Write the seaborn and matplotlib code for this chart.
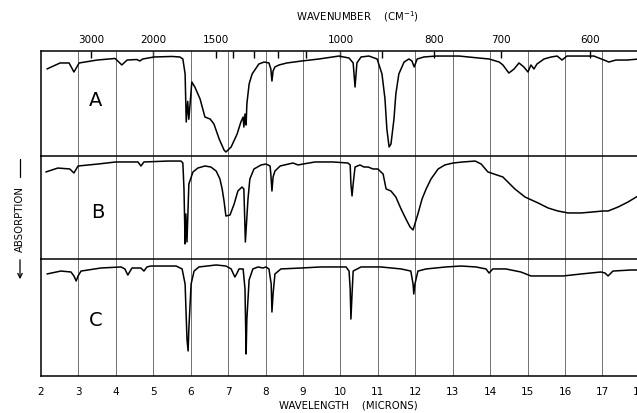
import numpy as np
import pandas as pd
import matplotlib
matplotlib.use("Agg")
import matplotlib.pyplot as plt
import seaborn as sns
from matplotlib.lines import Line2D
from matplotlib.patches import FancyArrowPatch

# ---------------- data (wavelength in microns, transmittance % of panel height) -------------
wl_a = [2.16, 2.51, 2.75, 2.88, 3.02, 3.50, 3.98, 4.16, 4.30, 4.56, 4.64, 4.72, 5.02, 5.50,
        5.71, 5.79, 5.85, 5.88, 5.92, 5.95, 6.03, 6.11, 6.25, 6.38, 6.52, 6.62, 6.76, 6.89,
        6.94, 7.08, 7.24, 7.34, 7.40, 7.42, 7.45, 7.48, 7.50, 7.56, 7.64, 7.82, 7.96, 8.09,
        8.14, 8.17, 8.20, 8.25, 8.36, 8.57, 8.97, 9.43, 9.96, 10.23, 10.34, 10.39, 10.44,
        10.55, 10.76, 10.98, 11.11, 11.19, 11.24, 11.30, 11.35, 11.43, 11.48, 11.56, 11.70,
        11.83, 11.91, 11.97, 12.05, 12.23, 12.55, 13.17, 13.70, 13.97, 14.24, 14.34, 14.50,
        14.64, 14.77, 14.90, 15.01, 15.09, 15.17, 15.25, 15.44, 15.63, 15.79, 15.92, 16.05,
        16.37, 16.77, 17.04, 17.17, 17.36, 17.66, 17.98]
tr_a = [82.9, 88.6, 88.6, 80.0, 88.6, 91.4, 92.9, 86.7, 91.4, 91.9, 90.5, 92.4, 94.3, 94.8,
        94.3, 92.4, 78.1, 32.4, 52.0, 35.0, 70.5, 65.7, 54.3, 37.1, 35.2, 30.5, 16.2, 5.7,
        3.8, 8.6, 21.0, 32.4, 37.1, 27.6, 40.0, 29.5, 49.5, 68.6, 78.1, 87.6, 89.5, 88.6,
        82.9, 71.4, 81.0, 84.8, 86.7, 88.6, 90.5, 92.4, 95.2, 93.3, 88.6, 65.7, 88.6,
        94.3, 95.2, 92.4, 78.1, 54.3, 25.7, 8.6, 11.4, 35.2, 59.0, 78.1, 89.5,
        92.4, 90.5, 84.8, 92.4, 94.3, 95.2, 95.2, 93.3, 92.4, 89.5, 86.7, 79.0,
        82.9, 88.6, 84.8, 80.0, 86.7, 82.9, 87.6, 92.4, 94.3, 95.2, 91.4, 95.2,
        95.2, 95.2, 91.4, 89.5, 91.4, 91.4, 92.4]

wl_b = [2.13, 2.45, 2.77, 2.88, 2.99, 3.52, 4.00, 4.59, 4.67, 4.75, 5.39, 5.74, 5.79, 5.82,
        5.85, 5.87, 5.90, 5.95, 6.06, 6.19, 6.38, 6.54, 6.68, 6.78, 6.84, 6.89, 6.94, 7.05,
        7.16, 7.26, 7.37, 7.42, 7.46, 7.53, 7.58, 7.69, 7.88, 8.01, 8.12, 8.14, 8.17, 8.20,
        8.25, 8.39, 8.73, 8.87, 9.00, 9.32, 9.80, 10.20, 10.26, 10.28, 10.31, 10.34, 10.39,
        10.52, 10.63, 10.74, 10.87, 11.00, 11.14, 11.22, 11.35, 11.48, 11.62, 11.75, 11.86,
        11.94, 12.07, 12.18, 12.29, 12.42, 12.61, 12.79, 13.01, 13.27, 13.60, 13.76, 13.94,
        14.34, 14.66, 14.93, 15.28, 15.55, 15.81, 16.08, 16.43, 16.72, 17.01, 17.15, 17.42,
        17.68, 17.95]
tr_b = [84.5, 88.3, 87.4, 83.5, 90.3, 92.2, 94.2, 94.2, 90.3, 94.2, 95.1, 95.1, 93.2, 68.0,
        14.6, 43.7, 16.5, 72.8, 84.5, 88.3, 90.3, 89.3, 85.4, 77.7, 68.0, 56.3, 41.7, 42.7,
        53.4, 66.0, 69.9, 68.0, 16.5, 58.3, 77.7, 87.4, 91.3, 92.2, 90.3, 82.5, 66.0, 79.6,
        85.4, 90.3, 93.2, 91.3, 92.2, 94.2, 94.2, 93.2, 91.3, 72.8, 61.2, 72.8, 89.3,
        91.3, 89.3, 89.3, 87.4, 87.4, 82.5, 68.0, 66.0, 60.2, 48.5, 38.8, 31.1,
        28.2, 43.7, 58.3, 68.0, 77.7, 87.4, 91.3, 93.2, 94.2, 95.1, 92.2, 84.5,
        79.6, 68.0, 60.2, 54.4, 49.5, 46.6, 44.7, 44.7, 45.6, 46.6, 46.6, 50.5,
        55.3, 61.2]

wl_c = [2.16, 2.53, 2.80, 2.88, 2.94, 2.99, 3.07, 3.60, 4.14, 4.24, 4.32, 4.43, 4.67, 4.75,
        4.83, 4.94, 5.61, 5.77, 5.85, 5.90, 5.93, 5.95, 6.01, 6.09, 6.22, 6.68, 6.94, 7.08,
        7.13, 7.18, 7.24, 7.29, 7.40, 7.45, 7.48, 7.50, 7.56, 7.66, 7.80, 7.93, 8.01, 8.09,
        8.15, 8.17, 8.20, 8.25, 8.41, 8.95, 9.48, 9.75, 10.15, 10.23, 10.26, 10.28, 10.31,
        10.34, 10.55, 11.08, 11.62, 11.88, 11.94, 11.96, 11.99, 12.07, 12.29, 12.82, 13.22,
        13.62, 13.89, 13.97, 14.07, 14.42, 14.82, 15.09, 15.49, 15.95, 16.43, 16.96, 17.07,
        17.15, 17.28, 17.76, 18.03]
tr_c = [87.2, 89.7, 88.9, 85.5, 81.2, 85.5, 89.7, 92.3, 93.2, 91.5, 86.3, 92.3, 92.3, 89.7,
        93.2, 94.0, 94.0, 91.5, 78.6, 31.6, 21.4, 40.2, 78.6, 89.7, 93.2, 94.9, 94.0, 91.5,
        88.0, 84.6, 88.0, 91.5, 91.5, 74.4, 18.8, 48.7, 82.1, 91.5, 93.2, 92.3, 93.2, 91.5,
        78.6, 54.7, 70.1, 87.2, 91.5, 92.3, 93.2, 93.2, 93.2, 89.7, 74.4, 48.7, 70.1,
        89.7, 93.2, 93.2, 91.5, 89.7, 78.6, 70.1, 78.6, 89.7, 91.5, 93.2, 94.0,
        93.2, 91.5, 88.0, 91.5, 91.5, 88.9, 85.5, 85.5, 85.5, 87.2, 88.9, 88.0,
        85.5, 89.7, 90.6, 90.6]

panel_labels = ["A", "B", "C"]
wl_ticks = list(range(2, 19))
wn_major = [3000, 2000, 1500, 1000, 800, 700, 600]
wn_minor = [1400, 1300, 1200, 1100, 900]

# ---------------- figure ----------------
sns.set_theme(style="white")
plt.rcParams["font.family"] = ["DejaVu Sans"]

W, H = 637, 414
fig = plt.figure(figsize=(W / 100, H / 100), dpi=100)
fig.patch.set_facecolor("white")

left = 41 / W
width = 16 * 37.43 / W
panels_px = [(52, 157), (157, 260), (260, 377)]
series = [(wl_a, tr_a), (wl_b, tr_b), (wl_c, tr_c)]
label_pos = [(3.47, 54), (3.52, 46), (3.47, 48)]

axes = []
for i, ((top, bot), (wl, tr)) in enumerate(zip(panels_px, series)):
    ax = fig.add_axes([left, 1 - bot / H, width, (bot - top) / H])
    ax.set_facecolor("white")
    for g in range(3, 18):
        ax.axvline(g, color="0.35", lw=0.6, zorder=1)
    df = pd.DataFrame({"wl": wl, "tr": tr})
    sns.lineplot(data=df, x="wl", y="tr", ax=ax, color="black", lw=1.1,
                 estimator=None, sort=False, zorder=3)
    ax.set_xlim(2, 18)
    ax.set_ylim(0, 100)
    ax.set_yticks([])
    ax.set_xlabel("")
    ax.set_ylabel("")
    for s in ["left", "top", "right", "bottom"]:
        ax.spines[s].set_color("black")
        ax.spines[s].set_linewidth(1.1)
    ax.spines["right"].set_visible(False)
    if i < 2:
        ax.spines["bottom"].set_visible(False)
    ax.text(label_pos[i][0], label_pos[i][1], panel_labels[i], fontsize=14,
            ha="center", va="center", color="black")
    axes.append(ax)

# bottom wavelength axis
axc = axes[2]
axc.set_xticks(wl_ticks)
axc.set_xticklabels([str(t) for t in wl_ticks], fontsize=7.5)
axc.tick_params(axis="x", length=0, pad=7, colors="black")

# top wavenumber axis on panel A
axa = axes[0]
axa.xaxis.tick_top()
axa.set_xticks([1e4 / w for w in wn_major])
axa.set_xticklabels([str(w) for w in wn_major], fontsize=7.5)
axa.set_xticks([1e4 / w for w in wn_minor], minor=True)
axa.tick_params(axis="x", which="both", direction="in", length=5, width=1.0,
                pad=5, colors="black", top=True, bottom=False)
axes[1].set_xticks([])

# titles
fig.text(357 / W, 1 - 17 / H, "WAVENUMBER    (CM$^{-1}$)", fontsize=7.3,
         ha="center", va="center", color="black")
fig.text(348 / W, 1 - 406 / H, "WAVELENGTH    (MICRONS)", fontsize=7.3,
         ha="center", va="center", color="black")

# y label with arrow
fig.text(20 / W, 1 - 219 / H, "ABSORPTION", fontsize=7.3, rotation=90,
         ha="center", va="center", color="black")
fig.add_artist(Line2D([20 / W, 20 / W], [1 - 160 / H, 1 - 178 / H], color="black", lw=0.9))
fig.add_artist(FancyArrowPatch((20 / W, 1 - 258 / H), (20 / W, 1 - 283 / H),
                               transform=fig.transFigure, arrowstyle="->",
                               mutation_scale=8, color="black", lw=0.9))

fig.savefig("out.png", dpi=100, facecolor="white")
